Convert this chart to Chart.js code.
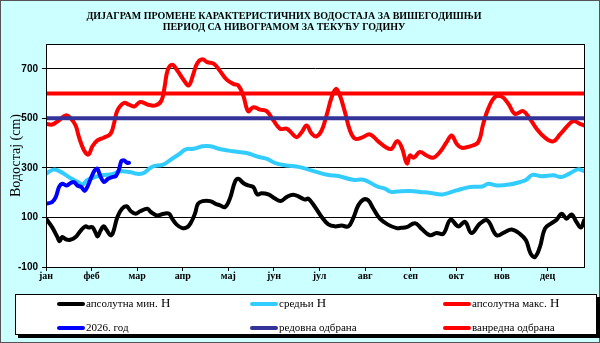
<!DOCTYPE html>
<html>
<head>
<meta charset="utf-8">
<script src="https://cdn.jsdelivr.net/npm/chart.js@4.4.1/dist/chart.umd.min.js"></script>
<style>
  body { margin: 0; }
  #wrap { position: relative; width: 600px; height: 343px; background: #ccffff; }
  #myChart { position: absolute; left: 0; top: 0; }
  #legend {
    position: absolute; left: 15px; top: 294px; width: 580px; height: 39px;
    background: #fff; border: 1px solid #000; box-shadow: 3px 3px 0 #000;
    font-family: "Liberation Serif", serif; font-size: 11px; color: #000;
  }
  .item { position: absolute; height: 14px; line-height: 14px; white-space: nowrap; }
  .item i { display: inline-block; width: 28px; height: 4px; border-radius: 2px; vertical-align: middle; margin-right: 1px; }
  .item b { font-weight: normal; font-size: 13px; }
</style>
</head>
<body>
<div id="wrap">
  <canvas id="myChart" width="600" height="343"></canvas>
  <div id="legend"></div>
</div>
<script>
// categories / ticks
const monthLabels = ["јан", "феб", "мар", "апр", "мај", "јун", "јул", "авг", "сеп", "окт", "нов", "дец"];
const monthDays = [0, 30, 60, 90, 120, 150, 180, 210, 240, 270, 300, 330];
const yTicks = [-100, 100, 300, 500, 700];
const xMax = 354;

// апсолутна мин. Н
const minDays = [0, 4, 7.5, 9, 10.7, 13, 16, 19.5, 23, 26, 28, 30.5, 32.7, 34, 36, 38, 40, 42.5, 44, 47, 50, 53, 55.7, 59, 62, 66.7, 69, 73, 77.6, 81, 83, 86, 89.7, 92.5, 95, 98, 100, 103, 108, 111.6, 114.5, 117.8, 121, 124.3, 126.5, 129.8, 133, 136.4, 139, 141.9, 146.3, 150.7, 154.4, 158.3, 162.7, 167, 170.4, 172.6, 177, 181.4, 185.8, 190, 194.5, 199, 202, 205.5, 208.8, 212, 215.4, 219.7, 225, 230.7, 234, 237.3, 242.8, 247, 252.6, 257, 261.4, 266.2, 271.3, 275.7, 280, 285.5, 290.4, 296.5, 302, 306.4, 311.8, 315.8, 318.9, 321.7, 325, 328.3, 332.7, 336, 339.3, 342.5, 345.8, 349, 352, 354];
const minVals = [95, 61, 21, 4, 21, 12, 10, 21, 48, 64, 59, 61, 37, 24, 48, 64, 48, 28, 37, 102, 135, 145, 126, 115, 125, 135, 122, 108, 115, 115, 95, 71, 57, 59, 75, 115, 155, 166, 166, 155, 149, 142, 176, 243, 256, 239, 229, 223, 193, 198, 193, 176, 166, 182, 192, 182, 172, 176, 142, 102, 72, 64, 67, 64, 95, 149, 172, 169, 135, 95, 71, 57, 58, 61, 77, 55, 28, 37, 34, 91, 64, 82, 37, 75, 88, 28, 41, 51, 34, 8, -46, -60, -19, 55, 77, 91, 115, 95, 112, 82, 59, 88];

// средњи Н
const meanDays = [0, 5, 10, 16, 21, 24, 27, 32, 37, 44, 49, 55, 60, 64, 68, 71, 77, 82, 88, 92, 97, 103, 108, 115, 123, 132, 139, 145, 152, 158, 167, 176, 185, 193, 202, 209, 218, 223, 227, 231, 240, 246, 253, 261, 270, 279, 287, 291, 297, 305, 312, 316, 320, 326, 334, 339, 345, 350, 354];
const meanVals = [276, 293, 283, 259, 243, 233, 250, 263, 270, 276, 286, 283, 276, 279, 297, 307, 313, 333, 357, 375, 377, 387, 387, 375, 367, 360, 346, 337, 317, 310, 303, 287, 272, 266, 252, 252, 225, 216, 203, 205, 207, 203, 199, 193, 209, 223, 225, 236, 229, 233, 243, 252, 272, 266, 270, 263, 279, 294, 287];

// апсолутна макс. Н
const maxDays = [0, 4, 8.5, 13, 16, 19.5, 21.7, 25, 27.9, 30.5, 33.8, 38, 42.5, 44.7, 47, 51.3, 54.6, 58, 62, 66.7, 72, 76, 78, 80, 83, 86.4, 90.8, 94, 97, 99.6, 103, 106, 110.5, 114.5, 118.9, 123.2, 126.5, 129.8, 133, 136.4, 140.8, 145.2, 149.6, 154, 158.3, 161.6, 164.9, 168.2, 171.5, 174.8, 178, 181.4, 184.6, 188, 190.8, 193.4, 196.7, 200, 203.3, 207.7, 213.2, 218.6, 224.1, 227.4, 231, 234, 237.5, 239.5, 242, 246, 250.4, 254.8, 259.2, 263.6, 266.9, 270.2, 273.5, 279, 284.4, 287.7, 291, 295.4, 299.8, 304.2, 308.6, 314, 318.4, 322.8, 328.3, 333.8, 338.2, 342.5, 347, 351.3, 354];
const maxVals = [478, 475, 492, 512, 502, 471, 424, 371, 354, 387, 411, 422, 438, 478, 532, 562, 555, 548, 566, 556, 552, 572, 626, 693, 716, 693, 653, 633, 680, 723, 738, 727, 720, 691, 656, 639, 633, 592, 529, 545, 535, 529, 492, 458, 458, 441, 424, 444, 471, 438, 427, 451, 512, 586, 619, 592, 525, 451, 418, 422, 435, 407, 381, 377, 408, 384, 318, 350, 341, 364, 350, 341, 364, 404, 431, 397, 381, 387, 404, 478, 539, 586, 588, 559, 518, 529, 498, 458, 422, 407, 435, 465, 489, 478, 471];

// 2026. год
const curDays = [0, 4, 6.4, 8.6, 10.7, 13.6, 16.2, 18.4, 20.6, 23.2, 25.4, 27.2, 29.4, 32, 33.8, 36, 38.2, 40.8, 43.6, 45.8, 48, 49.6, 51.3, 53.5, 54.6];
const curVals = [155, 162, 182, 223, 236, 229, 239, 243, 229, 223, 207, 223, 256, 290, 297, 263, 243, 256, 263, 266, 293, 328, 330, 320, 321];

// одбрана
const redovna = 500;
const vanredna = 600;

const series = [
  { label: "апсолутна мин.", unit: " Н", color: "#000000" },
  { label: "средњи", unit: " Н", color: "#33ccff" },
  { label: "апсолутна макс.", unit: " Н", color: "#ff0000" },
  { label: "2026. год", unit: "", color: "#0000ff" },
  { label: "редовна одбрана", unit: "", color: "#333399" },
  { label: "ванредна одбрана", unit: "", color: "#ff0000" },
];

function pts(days, vals) {
  return days.map((d, i) => ({ x: d, y: vals[i] }));
}

function line(idx, data, order, tension) {
  return {
    label: series[idx].label + series[idx].unit,
    data: data,
    borderColor: series[idx].color,
    borderWidth: 4,
    pointRadius: 0,
    tension: tension,
    borderCapStyle: "round",
    borderJoinStyle: "round",
    order: order,
  };
}

//background, title, plot frame
const framePlugin = {
  id: "frame",
  beforeDraw(chart) {
    const c = chart.ctx;
    const a = chart.chartArea;
    c.save();
    c.fillStyle = "#ccffff";
    c.fillRect(0, 0, chart.width, chart.height);
    c.strokeStyle = "#555";
    c.lineWidth = 1;
    c.strokeRect(0.5, 0.5, chart.width - 1, chart.height - 1);
    c.fillStyle = "#fff";
    c.fillRect(a.left, a.top, a.right - a.left, a.bottom - a.top);
    c.fillStyle = "#000";
    c.font = "bold 10px 'Liberation Serif'";
    c.textAlign = "center";
    c.textBaseline = "middle";
    c.fillText("ДИЈАГРАМ ПРОМЕНЕ КАРАКТЕРИСТИЧНИХ ВОДОСТАЈА ЗА ВИШЕГОДИШЊИ", 284, 16.5);
    c.fillText("ПЕРИОД СА НИВОГРАМОМ ЗА ТЕКУЋУ ГОДИНУ", 284, 27.5);
    c.restore();
  },
  afterDraw(chart) {
    const c = chart.ctx;
    const a = chart.chartArea;
    c.save();
    c.strokeStyle = "#000";
    c.lineWidth = 1;
    c.strokeRect(Math.round(a.left) + 0.5, Math.round(a.top) + 0.5, Math.round(a.right - a.left), Math.round(a.bottom - a.top));
    c.restore();
  },
};

const ctx = document.getElementById("myChart").getContext("2d");
const myChart = new Chart(ctx, {
  type: "line",
  data: {
    datasets: [
      line(4, [{ x: 0, y: redovna }, { x: xMax, y: redovna }], 0, 0),
      line(5, [{ x: 0, y: vanredna }, { x: xMax, y: vanredna }], 1, 0),
      line(3, pts(curDays, curVals), 2, 0.3),
      line(0, pts(minDays, minVals), 3, 0.4),
      line(1, pts(meanDays, meanVals), 4, 0.4),
      line(2, pts(maxDays, maxVals), 5, 0.4),
    ],
  },
  options: {
    responsive: false,
    animation: false,
    devicePixelRatio: 1,
    layout: { padding: { left: 0, top: 44, right: 16, bottom: 56 } },
    plugins: { legend: { display: false }, tooltip: { enabled: false } },
    scales: {
      x: {
        type: "linear",
        min: 0,
        max: xMax,
        afterBuildTicks: (s) => { s.ticks = monthDays.map((v) => ({ value: v })); },
        afterFit: (s) => { s.height = 20; },
        ticks: {
          autoSkip: false,
          maxRotation: 0,
          padding: -1,
          color: "#000",
          font: { family: "Liberation Serif", size: 10, weight: "bold" },
          callback: (v) => monthLabels[monthDays.indexOf(v)],
        },
        grid: { drawOnChartArea: false, drawTicks: true, tickLength: 4, color: "#000" },
        border: { color: "#000" },
      },
      y: {
        min: -100,
        max: 800,
        afterBuildTicks: (s) => { s.ticks = yTicks.map((v) => ({ value: v })); },
        afterFit: (s) => { s.width = 46; },
        ticks: {
          padding: 4,
          color: "#000",
          font: { family: "Liberation Sans", size: 10, weight: "bold" },
        },
        grid: { color: "#000", lineWidth: 1, tickLength: 4 },
        border: { color: "#000" },
        title: {
          display: true,
          text: "Водостај (cm)",
          color: "#000",
          font: { family: "Liberation Serif", size: 14 },
          padding: { top: 8, bottom: 0 },
        },
      },
    },
  },
  plugins: [framePlugin],
});

//legend
const legendPos = [
  [41, 0], [234, 0], [427, 0],
  [41, 1], [234, 1], [427, 1],
];
const legendEl = document.getElementById("legend");
series.forEach((s, k) => {
  const d = document.createElement("div");
  d.className = "item";
  d.style.left = legendPos[k][0] + "px";
  d.style.top = (legendPos[k][1] * 24 + 1) + "px";
  d.innerHTML = `<i style="background:${s.color}"></i>${s.label}<b>${s.unit}</b>`;
  legendEl.appendChild(d);
});
</script>
</body>
</html>
